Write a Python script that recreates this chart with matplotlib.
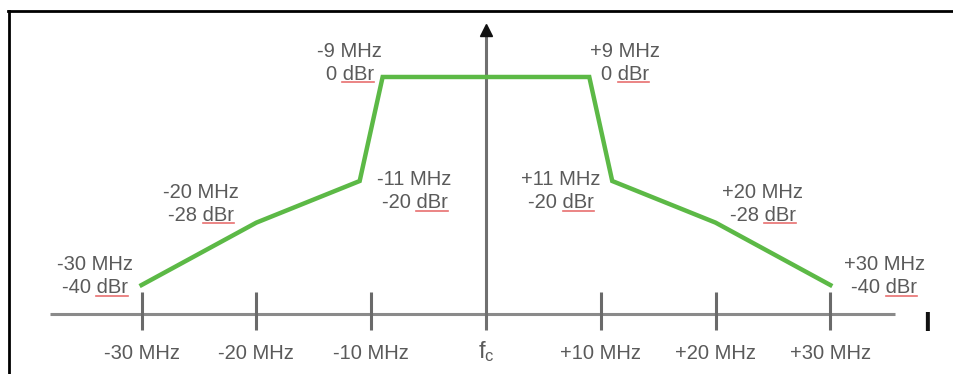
import matplotlib
matplotlib.use('Agg')
import matplotlib.pyplot as plt
from matplotlib.lines import Line2D
from matplotlib.transforms import IdentityTransform

# spectral mask corners: offset from fc (MHz) and level (dBr)
freq = [-30, -20, -11, -9, 9, 11, 20, 30]
level = [-40, -28, -20, 0, 0, -20, -28, -40]
freq_labels = ['-30 MHz', '-20 MHz', '-11 MHz', '-9 MHz', '+9 MHz', '+11 MHz', '+20 MHz', '+30 MHz']
level_labels = ['-40 dBr', '-28 dBr', '-20 dBr', '0 dBr', '0 dBr', '-20 dBr', '-28 dBr', '-40 dBr']

tick_pos = [-30, -20, -10, 0, 10, 20, 30]
tick_labels = ['-30 MHz', '-20 MHz', '-10 MHz', r'$\mathregular{f_c}$', '+10 MHz', '+20 MHz', '+30 MHz']

# where each corner label sits, in pixels from its corner
label_off = [(-47, 9), (-55, 19), (55, -10), (-33, 14), (36, 14), (-51, -10), (47, 19), (54, 9)]

W, H = 954, 374
fig = plt.figure(figsize=(W / 100, H / 100), dpi=100)
ax = fig.add_axes([0, 0, 1, 1])
ax.set_xlim(-42.33, 40.77)
ax.set_ylim(-57.1, 14.8)
ax.axis('off')

txt_color = '#5a5a5a'
axis_color = '#8a8a8a'
font = dict(family='Liberation Sans', fontsize=14.5, color=txt_color)

# frequency axis
axis_y = -45.6
ax.plot([-37.98, 35.63], [axis_y, axis_y], color=axis_color, lw=2.2, solid_capstyle='butt', zorder=1)
for p in tick_pos:
    if p == 0:
        continue
    ax.plot([p, p], [-41.35, -48.65], color='#6a6a6a', lw=2.2, solid_capstyle='butt', zorder=1)

# vertical arrow at fc
ax.plot([0, 0], [-48.65, 8.5], color='#707070', lw=2.2, solid_capstyle='butt', zorder=1)
ax.plot(0, 9.0, marker='^', ms=9, color='#111111', zorder=3)

for p, lab in zip(tick_pos, tick_labels):
    if p == 0:
        ax.text(p, -52.8, lab, ha='center', va='center', family='Liberation Sans',
                fontsize=17, color=txt_color)
    else:
        ax.text(p, -53.2, lab, ha='center', va='center', **font)

# mask
ax.plot(freq, level, color='#5cb946', lw=3.2, solid_joinstyle='miter', zorder=2)

# corner labels
second_lines = []
for f, l, fl, ll, (dx, dy) in zip(freq, level, freq_labels, level_labels, label_off):
    ax.annotate(fl, (f, l), xytext=(dx, dy + 11.5), textcoords='offset pixels',
                ha='center', va='center', **font)
    t = ax.annotate(ll, (f, l), xytext=(dx, dy - 11.5), textcoords='offset pixels',
                    ha='center', va='center', **font)
    second_lines.append(t)

ax.text(927, H - 324, 'I', transform=IdentityTransform(), ha='center', va='center',
        family='Liberation Sans', fontsize=20, fontweight='bold', color='#111111')

# frame (top and left edges only are visible)
fig.add_artist(Line2D([8, W], [H - 11, H - 11], transform=IdentityTransform(), color='black', lw=2))
fig.add_artist(Line2D([8.5, 8.5], [0, H - 11], transform=IdentityTransform(), color='black', lw=2))

# red spell-check underline under "dBr"
fig.canvas.draw()
renderer = fig.canvas.get_renderer()
probe = ax.text(0, 0, 'dBr', **font)
w_dbr = probe.get_window_extent(renderer).width
probe.remove()
for t in second_lines:
    bb = t.get_window_extent(renderer)
    fig.add_artist(Line2D([bb.x1 - w_dbr, bb.x1], [bb.y0 + 1.5, bb.y0 + 1.5], transform=IdentityTransform(),
                          color='#e87070', lw=1.2))

fig.savefig('out.png', dpi=100)
